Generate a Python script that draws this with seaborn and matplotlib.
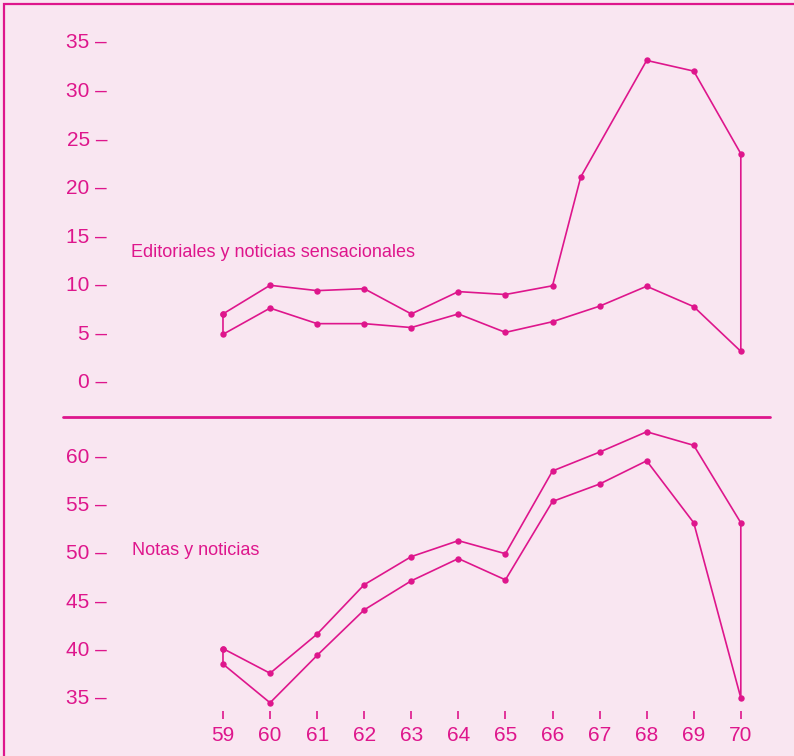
import matplotlib
matplotlib.use("Agg")
import matplotlib.pyplot as plt
import seaborn as sns
import pandas as pd
from matplotlib.patches import Rectangle
from matplotlib.lines import Line2D

# data
years = [59, 60, 61, 62, 63, 64, 65, 66, 67, 68, 69, 70]

edit_upper_x = [59, 60, 61, 62, 63, 64, 65, 66, 66.6, 68, 69, 70]
edit_upper_y = [6.9, 9.85, 9.3, 9.5, 6.9, 9.2, 8.9, 9.8, 21.0, 33.0, 31.9, 23.4]
edit_lower_x = [59, 60, 61, 62, 63, 64, 65, 66, 67, 68, 69, 70]
edit_lower_y = [4.8, 7.5, 5.9, 5.9, 5.5, 6.9, 5.0, 6.1, 7.7, 9.75, 7.65, 3.05]

notas_upper_y = [40.0, 37.45, 41.5, 46.6, 49.5, 51.15, 49.8, 58.35, 60.3, 62.4, 61.0, 53.0]
notas_lower_y = [38.4, 34.4, 39.3, 44.0, 47.0, 49.3, 47.1, 55.2, 57.0, 59.4, 53.0, 34.9]

top_ticks = [0, 5, 10, 15, 20, 25, 30, 35]
bottom_ticks = [35, 40, 45, 50, 55, 60]

MAG = "#de168c"
BG = "#f9e6f1"

sns.set_style("white")
plt.rcParams["font.family"] = ["Liberation Sans Narrow", "Liberation Sans", "DejaVu Sans"]

W, H = 794, 756
fig = plt.figure(figsize=(W / 100, H / 100), dpi=100)
fig.patch.set_facecolor(BG)


def px_axes(left, top, right, bottom):
    return fig.add_axes([left / W, 1 - bottom / H, (right - left) / W, (bottom - top) / H])


def loop(xu, yu, xl, yl):
    # closed outline: upper series, then lower series backwards
    xs = list(xu) + list(xl[::-1]) + [xu[0]]
    ys = list(yu) + list(yl[::-1]) + [yu[0]]
    return pd.DataFrame({"x": xs, "y": ys})


xlim = (56.6, 70.62)

ax1 = px_axes(110, 20, 770, 400)
ax2 = px_axes(110, 425, 770, 711)

for ax in (ax1, ax2):
    ax.set_facecolor("none")
    for s in ax.spines.values():
        s.set_visible(False)
    ax.set_xlim(*xlim)

d1 = loop(edit_upper_x, edit_upper_y, edit_lower_x, edit_lower_y)
sns.lineplot(data=d1, x="x", y="y", sort=False, estimator=None, ax=ax1,
             color=MAG, lw=1.2, marker="o", markersize=4.6, markeredgewidth=0)
d2 = loop(years, notas_upper_y, years, notas_lower_y)
sns.lineplot(data=d2, x="x", y="y", sort=False, estimator=None, ax=ax2,
             color=MAG, lw=1.2, marker="o", markersize=4.6, markeredgewidth=0)

ax1.set_ylim(-1.96, 37.16)
ax2.set_ylim(33.55, 63.1)

ax1.set_yticks(top_ticks)
ax1.set_yticklabels([f"{v} \u2013" for v in top_ticks])
ax2.set_yticks(bottom_ticks)
ax2.set_yticklabels([f"{v} \u2013" for v in bottom_ticks])
ax1.set_xticks([])
ax2.set_xticks(years)
ax2.set_xticklabels([str(y) for y in years])

for ax in (ax1, ax2):
    ax.set_xlabel("")
    ax.set_ylabel("")
    ax.tick_params(axis="y", length=0, pad=2, labelsize=15, labelcolor=MAG)
ax2.tick_params(axis="x", length=6, width=1.2, color=MAG, direction="out",
                pad=5, labelsize=15, labelcolor=MAG, bottom=True)

ax1.text(57.05, 13.2, "Editoriales y noticias sensacionales", color=MAG,
         fontsize=13, va="center", ha="left")
ax2.text(57.07, 50.1, "Notas y noticias", color=MAG,
         fontsize=13, va="center", ha="left")

# separator and outer frame
fig.add_artist(Line2D([63 / W, 770 / W], [1 - 417 / H, 1 - 417 / H],
                      color=MAG, lw=2, transform=fig.transFigure))
fig.add_artist(Rectangle((4 / W, -0.1), 1.2, 1 - 4 / H + 0.1, fill=False,
                         edgecolor=MAG, lw=1.6, transform=fig.transFigure))

fig.savefig("out.png", dpi=100, facecolor=BG)
